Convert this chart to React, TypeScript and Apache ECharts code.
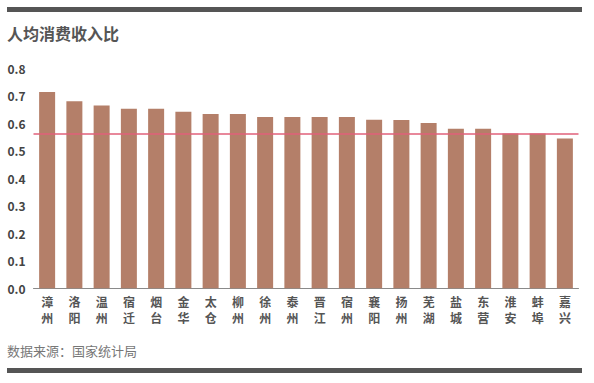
import React, { useEffect, useRef } from "react";
import * as echarts from "echarts";

const categories = ["漳州", "洛阳", "温州", "宿迁", "烟台", "金华", "太仓", "柳州", "徐州", "泰州", "晋江", "宿州", "襄阳", "扬州", "芜湖", "盐城", "东营", "淮安", "蚌埠", "嘉兴"];
const values = [0.713, 0.679, 0.664, 0.652, 0.652, 0.641, 0.633, 0.633, 0.622, 0.622, 0.622, 0.622, 0.612, 0.611, 0.6, 0.579, 0.579, 0.562, 0.562, 0.544];
const referenceValue = 0.562;
const titleText = "人均消费收入比";
const sourceText = "数据来源：国家统计局";

const FONT = "'Noto Sans CJK SC', 'Noto Sans', sans-serif";

export default function App() {
  const ref = useRef<HTMLDivElement>(null);
  useEffect(() => {
    if (!ref.current) return;
    const chart = echarts.init(ref.current, null, { renderer: "svg" });
    chart.setOption({
      animation: false,
      backgroundColor: "#ffffff",
      grid: { left: 33.5, right: 15.5, top: 68, bottom: 94.7, containLabel: false },
      xAxis: {
        type: "category",
        data: categories.map((c) => c.split("").join("\n")),
        axisLine: { show: true, lineStyle: { color: "#8a8a8a", width: 1 } },
        axisTick: { show: false },
        axisLabel: {
          interval: 0,
          color: "#555555",
          fontFamily: FONT,
          fontWeight: "bold",
          fontSize: 12,
          lineHeight: 16,
          margin: 5,
        },
      },
      yAxis: {
        type: "value",
        min: 0,
        max: 0.8,
        interval: 0.1,
        axisLine: { show: false },
        axisTick: { show: false },
        splitLine: { show: false },
        axisLabel: {
          formatter: (v: number) => v.toFixed(1),
          color: "#444444",
          fontFamily: FONT,
          fontWeight: "bold",
          fontSize: 12,
          align: "left",
          margin: 26,
        },
      },
      series: [
        {
          type: "bar",
          data: values,
          barWidth: 16,
          itemStyle: { color: "#b47f69" },
          markLine: {
            silent: true,
            symbol: ["none", "none"],
            label: { show: false },
            lineStyle: { color: "#e0607a", width: 1.5, type: "solid" },
            data: [{ yAxis: referenceValue }],
          },
        },
      ],
      graphic: [
        { type: "rect", shape: { x: 7, y: 7, width: 575, height: 5 }, style: { fill: "#555555" } },
        { type: "rect", shape: { x: 7, y: 368, width: 575, height: 5 }, style: { fill: "#555555" } },
        {
          type: "text",
          left: 7,
          top: 25,
          style: { text: titleText, fill: "#555555", font: `bold 16px ${FONT}` },
        },
        {
          type: "text",
          left: 7,
          top: 344,
          style: { text: sourceText, fill: "#777777", font: `13px ${FONT}` },
        },
      ],
    });
    return () => chart.dispose();
  }, []);
  return <div ref={ref} style={{ width: 594, height: 383, position: "absolute", left: 0, top: 0 }} />;
}
